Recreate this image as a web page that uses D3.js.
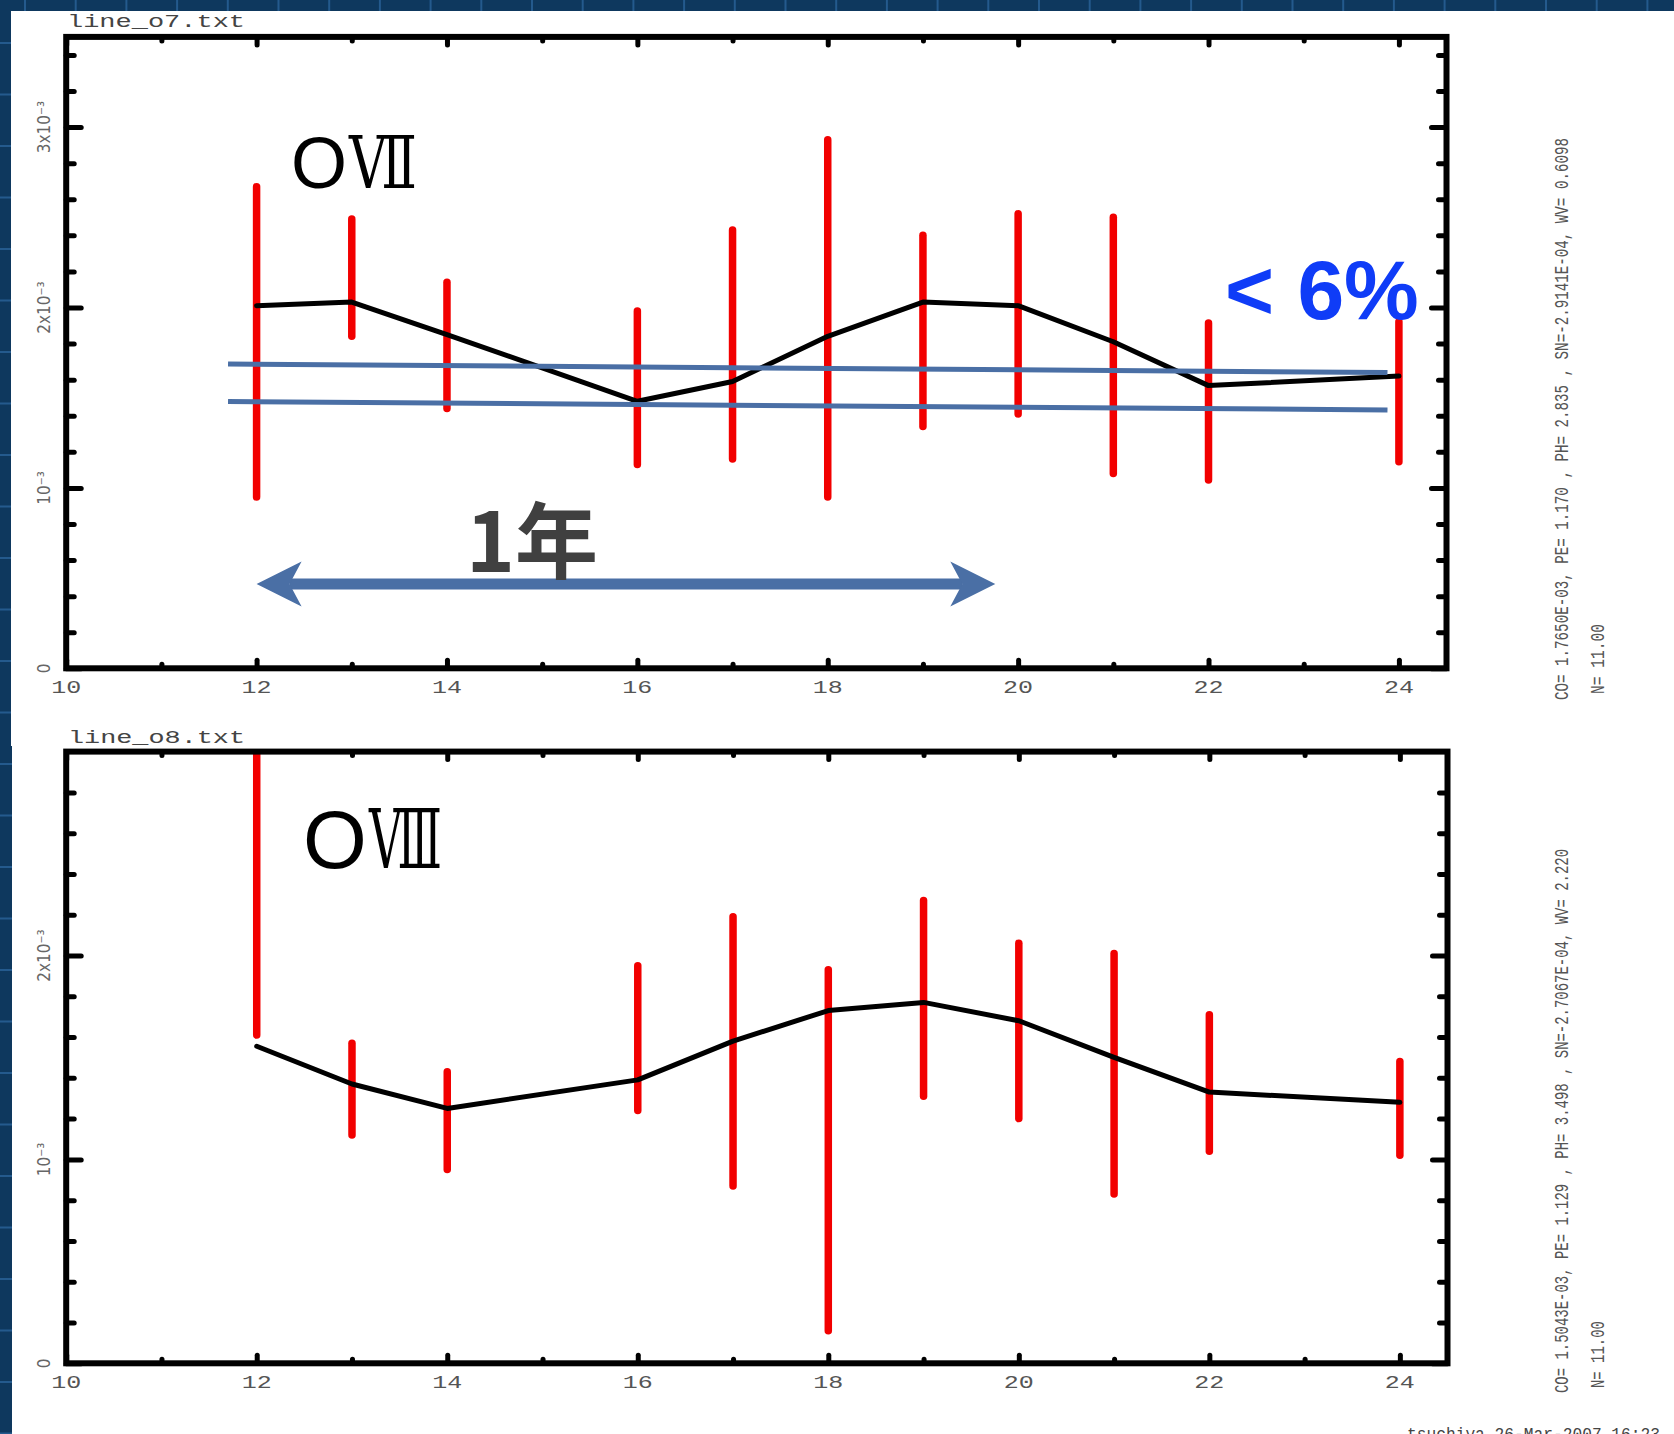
<!DOCTYPE html>
<html>
<head>
<meta charset="utf-8">
<script src="https://cdn.jsdelivr.net/npm/d3@7"></script>
<style>
  body { margin: 0; background: #0e385e; }
  svg { display: block; }
</style>
</head>
<body>
<div id="chart"></div>
<script>
/* global d3 */

// Our canvas
const width = 1674,
      height = 1434

// Data (x in months, values in counts)
const months = [12, 13, 14, 16, 17, 18, 19, 20, 21, 22, 24]

const o7Value = [2.01e-3, 2.03e-3, 1.85e-3, 1.48e-3, 1.59e-3, 1.84e-3, 2.03e-3, 2.01e-3, 1.81e-3, 1.567e-3, 1.62e-3]
const o7High  = [2.67e-3, 2.49e-3, 2.14e-3, 1.98e-3, 2.43e-3, 2.93e-3, 2.40e-3, 2.52e-3, 2.50e-3, 1.914e-3, 1.921e-3]
const o7Low   = [0.95e-3, 1.84e-3, 1.44e-3, 1.13e-3, 1.16e-3, 0.95e-3, 1.34e-3, 1.41e-3, 1.08e-3, 1.044e-3, 1.145e-3]

const o8Value = [1.555e-3, 1.37e-3, 1.25e-3, 1.39e-3, 1.58e-3, 1.73e-3, 1.77e-3, 1.68e-3, 1.50e-3, 1.33e-3, 1.28e-3]
const o8High  = [3.3e-3, 1.57e-3, 1.43e-3, 1.95e-3, 2.19e-3, 1.93e-3, 2.27e-3, 2.06e-3, 2.01e-3, 1.71e-3, 1.48e-3]
const o8Low   = [1.61e-3, 1.12e-3, 0.95e-3, 1.24e-3, 0.87e-3, 0.16e-3, 1.31e-3, 1.20e-3, 0.83e-3, 1.04e-3, 1.02e-3]

// tick labels
const xMajorTicks = [10, 12, 14, 16, 18, 20, 22, 24]
const xMinorTicks = [11, 13, 15, 17, 19, 21, 23]
const o7YTicks  = [0, 1e-3, 2e-3, 3e-3]
const o7YLabels = ['0', '10⁻³', '2x10⁻³', '3x10⁻³']
const o8YTicks  = [0, 1e-3, 2e-3]
const o8YLabels = ['0', '10⁻³', '2x10⁻³']

// annotations on the O VII plot
const bandX     = [11.7, 23.88]
const bandUpper = [1.687e-3, 1.639e-3]
const bandLower = [1.479e-3, 1.432e-3]
const arrowX    = [12, 19.76]
const arrowY    = 0.467e-3

const o7Fit = 'CO= 1.7650E-03, PE=  1.170    , PH=  2.835     , SN=-2.9141E-04, WV= 0.6098'
const o8Fit = 'CO= 1.5043E-03, PE=  1.129    , PH=  3.498     , SN=-2.7067E-04, WV=  2.220'

// Drawing area
let svg = d3.select('#chart')
  .append('svg')
  .attr('width', width)
  .attr('height', height)

// slide background with its grid
svg.append('rect').attr('width', width).attr('height', height).attr('fill', '#0e385e')
svg.append('g')
  .selectAll('line.v')
  .data(d3.range(25, width, 50.7))
  .enter().append('line')
  .attr('x1', d => d).attr('x2', d => d)
  .attr('y1', 0).attr('y2', height)
  .attr('stroke', '#245a8d').attr('stroke-width', 2)
svg.append('g')
  .selectAll('line.h')
  .data(d3.range(43, height, 51.5))
  .enter().append('line')
  .attr('x1', 0).attr('x2', width)
  .attr('y1', d => d).attr('y2', d => d)
  .attr('stroke', '#245a8d').attr('stroke-width', 2)

svg.append('rect').attr('x', 11).attr('y', 11).attr('width', width - 11).attr('height', 735).attr('fill', '#fff')
svg.append('rect').attr('x', 12).attr('y', 745).attr('width', width - 12).attr('height', height - 745).attr('fill', '#fff')

// one plot panel
let drawPanel = (id, x, y, yTicks, yLabels, value, high, low) => {
  const [x0, x1] = x.range()
  const [y0, y1] = y.range()
  const top = y.domain()[1]
  const g = svg.append('g')

  g.append('clipPath').attr('id', id)
    .append('rect').attr('x', x0).attr('y', y1).attr('width', x1 - x0).attr('height', y0 - y1)

  const yMinor = d3.range(0.2e-3, top - 1e-6, 0.2e-3).filter(v => Math.abs(v / 1e-3 - Math.round(v / 1e-3)) > 0.01)

  let tickStyle = a => {
    a.select('.domain').remove()
    a.selectAll('.tick line').attr('stroke', '#000').attr('stroke-width', 5).attr('stroke-linecap', 'round')
    a.selectAll('.tick text').remove()
  }

  g.append('g').attr('transform', `translate(0,${y0})`).call(d3.axisBottom(x).tickValues(xMajorTicks).tickSize(-8)).call(tickStyle)
  g.append('g').attr('transform', `translate(0,${y0})`).call(d3.axisBottom(x).tickValues(xMinorTicks).tickSize(-4)).call(tickStyle)
  g.append('g').attr('transform', `translate(0,${y1})`).call(d3.axisTop(x).tickValues(xMajorTicks).tickSize(-8)).call(tickStyle)
  g.append('g').attr('transform', `translate(0,${y1})`).call(d3.axisTop(x).tickValues(xMinorTicks).tickSize(-4)).call(tickStyle)
  g.append('g').attr('transform', `translate(${x0},0)`).call(d3.axisLeft(y).tickValues(yTicks).tickSize(-15)).call(tickStyle)
  g.append('g').attr('transform', `translate(${x0},0)`).call(d3.axisLeft(y).tickValues(yMinor).tickSize(-8)).call(tickStyle)
  g.append('g').attr('transform', `translate(${x1},0)`).call(d3.axisRight(y).tickValues(yTicks).tickSize(-15)).call(tickStyle)
  g.append('g').attr('transform', `translate(${x1},0)`).call(d3.axisRight(y).tickValues(yMinor).tickSize(-8)).call(tickStyle)

  // x labels
  g.selectAll('text.xl')
    .data(xMajorTicks)
    .enter().append('text')
    .attr('x', d => x(d))
    .attr('y', y0 + 25)
    .attr('text-anchor', 'middle')
    .attr('font-family', '"Liberation Mono", monospace')
    .attr('font-size', 19)
    .attr('fill', '#555')
    .attr('textLength', 30)
    .attr('lengthAdjust', 'spacingAndGlyphs')
    .text(d => d)

  // y labels, rotated
  g.selectAll('text.yl')
    .data(yTicks)
    .enter().append('text')
    .attr('transform', d => `translate(50,${y(d)}) rotate(-90)`)
    .attr('text-anchor', 'middle')
    .attr('font-family', '"DejaVu Sans Condensed", "Liberation Sans Narrow", "DejaVu Sans", sans-serif')
    .attr('font-stretch', 'condensed')
    .attr('font-size', 17)
    .attr('fill', '#666')
    .text((d, i) => yLabels[i])

  // error bars
  g.append('g').attr('clip-path', `url(#${id})`)
    .selectAll('line')
    .data(months)
    .enter().append('line')
    .attr('x1', d => x(d)).attr('x2', d => x(d))
    .attr('y1', (d, i) => y(high[i]))
    .attr('y2', (d, i) => y(low[i]))
    .attr('stroke', '#f20000')
    .attr('stroke-width', 7.5)
    .attr('stroke-linecap', 'round')

  // the curve
  g.append('path')
    .datum(months)
    .attr('d', d3.line().x(d => x(d)).y((d, i) => y(value[i])))
    .attr('fill', 'none')
    .attr('stroke', '#000')
    .attr('stroke-width', 5)
    .attr('stroke-linejoin', 'round')
    .attr('stroke-linecap', 'round')

  // frame
  g.append('rect')
    .attr('x', x0).attr('y', y1)
    .attr('width', x1 - x0).attr('height', y0 - y1)
    .attr('fill', 'none')
    .attr('stroke', '#000')
    .attr('stroke-width', 6)

  return g
}

// O VII
let x7 = d3.scaleLinear().domain([10, 24.5]).range([66.2, 1446.5])
let y7 = d3.scaleLinear().domain([0, 3.5e-3]).range([668.3, 36.9])
let g7 = drawPanel('clip7', x7, y7, o7YTicks, o7YLabels, o7Value, o7High, o7Low)

// O VIII
let x8 = d3.scaleLinear().domain([10, 24.5]).range([66.2, 1447.5])
let y8 = d3.scaleLinear().domain([0, 3e-3]).range([1363.3, 751.6])
let g8 = drawPanel('clip8', x8, y8, o8YTicks, o8YLabels, o8Value, o8High, o8Low)

// blue bands
;[bandUpper, bandLower].forEach(band => {
  g7.append('line')
    .attr('x1', x7(bandX[0])).attr('x2', x7(bandX[1]))
    .attr('y1', y7(band[0])).attr('y2', y7(band[1]))
    .attr('stroke', '#4a6fa5')
    .attr('stroke-width', 5)
})

// one year arrow
let ax0 = x7(arrowX[0]), ax1 = x7(arrowX[1]), ay = y7(arrowY)
const headLen = 45, headHalf = 22.5, notch = 33
g7.append('line')
  .attr('x1', ax0 + notch).attr('x2', ax1 - notch)
  .attr('y1', ay).attr('y2', ay)
  .attr('stroke', '#4a6fa5').attr('stroke-width', 11)
g7.append('path')
  .attr('d', `M${ax0},${ay} L${ax0 + headLen},${ay - headHalf} L${ax0 + notch},${ay} L${ax0 + headLen},${ay + headHalf} Z
              M${ax1},${ay} L${ax1 - headLen},${ay - headHalf} L${ax1 - notch},${ay} L${ax1 - headLen},${ay + headHalf} Z`)
  .attr('fill', '#4a6fa5')

g7.append('text')
  .attr('x', 466).attr('y', 572)
  .attr('font-family', '"Noto Sans CJK JP", sans-serif')
  .attr('font-weight', 'bold')
  .attr('font-size', 83)
  .attr('fill', '#404040')
  .text('1年')

g7.append('text')
  .attr('x', 1225).attr('y', 319)
  .attr('font-family', '"Liberation Sans", Arial, sans-serif')
  .attr('font-weight', 'bold')
  .attr('font-size', 84)
  .attr('fill', '#0f3cf7')
  .text('< 6%')

// ion labels
let ionLabel = (g, x, y, size, numeral, numX, numW) => {
  g.append('text')
    .attr('x', x).attr('y', y)
    .attr('font-family', '"Liberation Sans", Arial, sans-serif')
    .attr('font-size', size)
    .attr('fill', '#000')
    .text('O')
  g.append('text')
    .attr('x', numX).attr('y', y)
    .attr('font-family', '"DejaVu Serif", "Noto Sans CJK JP", serif')
    .attr('font-size', size)
    .attr('fill', '#000')
    .attr('textLength', numW)
    .attr('lengthAdjust', 'spacingAndGlyphs')
    .text(numeral)
}
ionLabel(g7, 291, 188, 72, 'Ⅶ', 349, 68)
ionLabel(g8, 303, 868, 82, 'Ⅷ', 369, 73)

// file names
let mono = (text, x, y, size, len) => svg.append('text')
  .attr('x', x).attr('y', y)
  .attr('font-family', '"Liberation Mono", monospace')
  .attr('font-size', size)
  .attr('fill', '#444')
  .attr('textLength', len)
  .attr('lengthAdjust', 'spacingAndGlyphs')
  .text(text)

mono('line_o7.txt', 67, 27, 19, 178)
mono('line_o8.txt', 68, 743, 19, 177)
mono('tsuchiya 26-Mar-2007 16:23', 1407, 1440, 18, 253)

// fit parameters, rotated along the right margin
let sideText = (text, x, y, len) => svg.append('text')
  .attr('transform', `translate(${x},${y}) rotate(-90)`)
  .attr('font-family', '"Liberation Mono", monospace')
  .attr('font-size', 21)
  .attr('fill', '#555')
  .attr('textLength', len)
  .attr('lengthAdjust', 'spacingAndGlyphs')
  .text(text)

sideText(o7Fit, 1568, 700, 562)
sideText('N=  11.00', 1604, 694, 70)
sideText(o8Fit, 1568, 1393, 544)
sideText('N=  11.00', 1604, 1388, 67)
</script>
</body>
</html>
